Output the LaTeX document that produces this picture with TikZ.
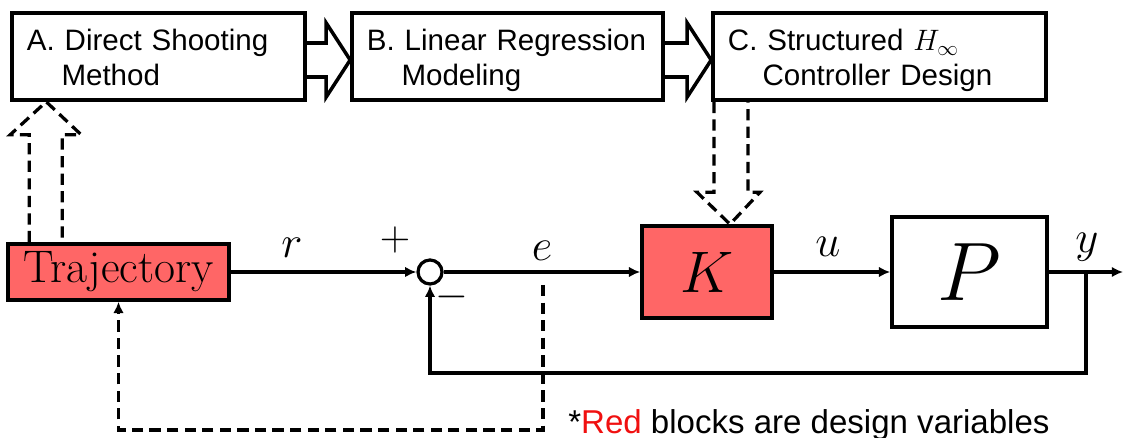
\RequirePackage{fix-cm}
\documentclass[tikz,border=0pt]{standalone}
\usepackage{fontspec}
\usetikzlibrary{arrows.meta,calc}
\newfontfamily\arialfont{Liberation Sans}
\definecolor{BlockRed}{HTML}{FF6666}
\definecolor{NoteRed}{HTML}{F01010}
\newcommand\flowarrow[2]{%
  \draw[flowarr] ($(#1.east)+(0,-13.5)$) -- ($(#2.west)+(-24,-13.5)$) -- ($(#2.west)+(-24,-33.5)$)
    -- ($(#2.west)+(0,3.5)$) -- ($(#2.west)+(-24,40.5)$) -- ($(#2.west)+(-24,20.5)$) -- ($(#1.east)+(0,20.5)$);}

\begin{document}
\begin{tikzpicture}[x=0.025cm,y=-0.025cm,
  stage/.style={draw,line width=2.5pt,minimum height=2.175cm,inner xsep=0.375cm,inner ysep=0pt,
    align=left,font=\arialfont\fontsize{21}{24.9}\selectfont},
  block/.style={draw,line width=2.5pt,inner sep=0pt},
  sig/.style={line width=2.3pt,-{Latex[length=8pt,width=7.5pt]}},
  flowarr/.style={line width=2.5pt},
  dsh/.style={line width=2.3pt,dash pattern=on 8pt off 4.5pt},
  lbl/.style={font=\fontsize{32}{38}\selectfont,anchor=base,inner sep=0pt}]
\path[use as bounding box] (0,0) rectangle (1123,438);
% design stages
\node[stage,text width=6.575cm] (A) at (158.5,56.5) {\rule{0pt}{1em}A. Direct Shooting\\\hspace*{1.17em}Method\vphantom{g}};
\node[stage,text width=7.025cm] (B) at (507.5,56.5) {\rule{0pt}{1em}B. Linear Regression\\\hspace*{1.17em}Modeling};
\node[stage,text width=7.575cm] (C) at (879.5,56.5) {\rule{0pt}{1em}C. Structured $H_\infty$\\\hspace*{1.17em}Controller Design};
\flowarrow{A}{B}
\flowarrow{B}{C}
% loop
\node[block,fill=BlockRed,minimum width=5.525cm,minimum height=1.4cm,font=\fontsize{32.5}{38}\selectfont] (traj) at (118.5,272) {Trajectory};
\node[draw,circle,line width=2.3pt,minimum size=0.6cm,inner sep=0pt] (sum) at (430,272) {};
\node[block,fill=BlockRed,minimum width=3.25cm,minimum height=2.3cm,font=\fontsize{41.7}{50}\selectfont] (K) at (707,272) {$K$};
\node[block,minimum width=3.875cm,minimum height=2.75cm,font=\fontsize{59}{70}\selectfont] (P) at (969.5,272) {$P$};
\coordinate (out) at (1123,272);
\coordinate (ytap) at (1086,272);
\coordinate (fb) at (1086,373);
\coordinate (etap) at (543,285);
\coordinate (ebot) at (543,430);
\draw[sig] (traj) -- (sum);
\draw[sig] (sum) -- (K);
\draw[sig] (K) -- (P);
\draw[sig] (P) -- (out);
\draw[sig] (ytap) -- (fb) -| (sum);
\draw[dsh,-{Latex[length=8pt,width=7.5pt]}] (etap) -- (ebot) -| (traj);
\node[lbl] (rl) at (292,258) {$r$};
\node[lbl] (el) at (542,261) {$e$};
\node[lbl] (ul) at (828,257) {$u$};
\node[lbl] (yl) at (1087,253) {$y$};
\node[font=\fontsize{30}{36}\selectfont,inner sep=0pt] (plus) at (395,240) {$+$};
\node[font=\fontsize{30}{36}\selectfont,inner sep=0pt] (minus) at (452,297) {$-$};
% dashed hollow arrows
\coordinate (tipA) at ($(A.south west)+(36,0)$);
\coordinate (aL) at ($(tipA)+(-17,0)$);
\coordinate (aR) at ($(tipA)+(16,0)$);
\draw[dsh] (aL |- traj.north) -- ($(tipA)+(-17,33)$) -- ($(tipA)+(-36,33)$) -- (tipA)
  -- ($(tipA)+(35,33)$) -- ($(tipA)+(16,33)$) -- (aR |- traj.north);
\coordinate (tipK) at ($(K.north)+(23,0)$);
\coordinate (kL) at ($(tipK)+(-16,0)$);
\coordinate (kR) at ($(tipK)+(18,0)$);
\draw[dsh] (kL |- C.south) -- ($(tipK)+(-16,-32)$) -- ($(tipK)+(-33,-32)$) -- (tipK)
  -- ($(tipK)+(30,-32)$) -- ($(tipK)+(18,-32)$) -- (kR |- C.south);
\node[anchor=base west,inner sep=0pt,font=\arialfont\fontsize{23.5}{28}\selectfont] (note) at (568,433) {*\textcolor{NoteRed}{Red} blocks are design variables};
\end{tikzpicture}
\end{document}
